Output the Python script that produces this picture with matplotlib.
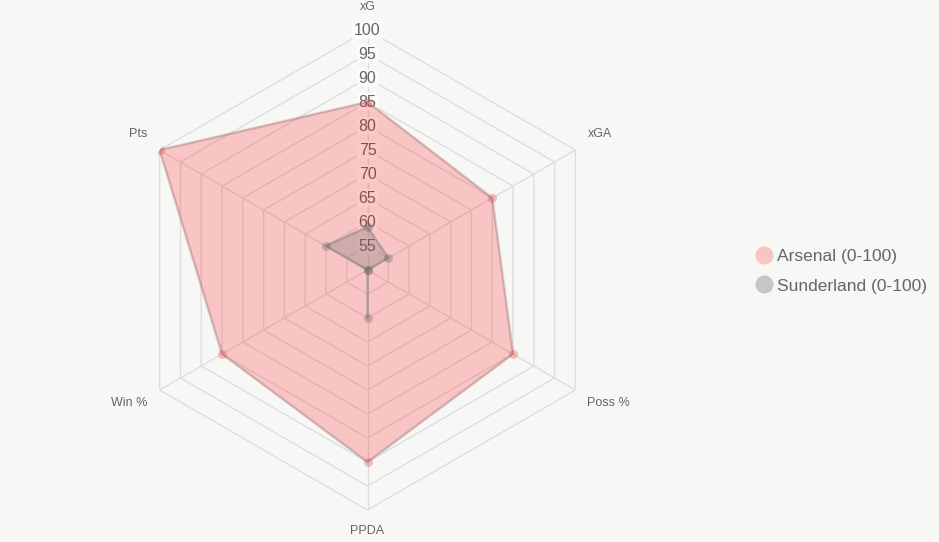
import numpy as np
import matplotlib.pyplot as plt
from matplotlib.lines import Line2D

plt.rcParams['font.family'] = ['Liberation Sans', 'DejaVu Sans']

# data
metrics = ['xG', 'xGA', 'Poss %', 'PPDA', 'Win %', 'Pts']
arsenal = [85, 80, 85, 90, 85, 100]
sunderland = [59, 55, 50, 60, 50, 60]
ticks = [55, 60, 65, 70, 75, 80, 85, 90, 95, 100]
series_names = ['Arsenal (0-100)', 'Sunderland (0-100)']

bg = '#f7f7f5'
grid_c = '#dedede'
text_c = '#666666'

fig = plt.figure(figsize=(9.39, 5.42), dpi=100, facecolor=bg)
ax = fig.add_axes([0.1358, 0.059, 0.5112, 0.8856], projection='polar')
ax.set_facecolor('none')
ax.set_theta_offset(np.pi / 2)
ax.set_theta_direction(-1)
ax.set_ylim(50, 100)
ax.grid(False)
ax.spines['polar'].set_visible(False)
ax.set_xticks([])
ax.set_yticks([])

n = len(metrics)
angles = np.arange(n) * 2 * np.pi / n
closed = np.append(angles, angles[0])

# hexagonal grid rings and spokes
for t in ticks:
    ax.plot(closed, [t] * (n + 1), color=grid_c, lw=1, zorder=1)
for a in angles:
    ax.plot([a, a], [50, 100], color=grid_c, lw=1, zorder=1)

# tick labels along the top spoke
for t in ticks:
    ax.text(0, t, str(t), ha='center', va='center', fontsize=11.5, color=text_c,
            zorder=2, bbox=dict(boxstyle='square,pad=0.12', fc='white', ec='none', alpha=0.75))

# axis labels
for a, lab in zip(angles, metrics):
    s, c = np.sin(a), np.cos(a)
    if abs(s) < 0.1:
        ha, off = 'center', (0, 23 if c > 0 else -21)
    else:
        ha = 'left' if s > 0 else 'right'
        off = (12 if s > 0 else -12, 16 if c > 0 else -13)
    ax.annotate(lab, (a, 100), xytext=off, textcoords='offset pixels',
                ha=ha, va='center', fontsize=9, color=text_c, annotation_clip=False)

# datasets
ars = np.append(arsenal, arsenal[0])
sun = np.append(sunderland, sunderland[0])
ax.fill(closed, ars, color=(1.0, 0.0, 0.0, 0.2), zorder=3)
ax.plot(closed, ars, color=(0.55, 0.55, 0.55, 0.3), lw=2, zorder=4)
ax.plot(angles, arsenal, 'o', ms=6.5, color=(0.85, 0.25, 0.25, 0.3), mec='none', zorder=5)

ax.fill(closed, sun, color=(0.45, 0.45, 0.45, 0.3), zorder=3)
ax.plot(closed, sun, color=(0.5, 0.5, 0.5, 0.3), lw=2, zorder=4)
ax.plot(angles, sunderland, 'o', ms=6.5, color=(0.35, 0.35, 0.35, 0.3), mec='none', zorder=5)

# legend
handles = [
    Line2D([], [], ls='none', marker='o', ms=12, mfc='#f8c4c4', mec='#f8c4c4'),
    Line2D([], [], ls='none', marker='o', ms=12, mfc='#c6c6c4', mec='#c6c6c4'),
]
fig.legend(handles, series_names, loc='center left', bbox_to_anchor=(0.788, 0.5),
           frameon=False, fontsize=12.5, labelcolor=text_c, handletextpad=0.25,
           handlelength=1.0, labelspacing=0.85)

fig.savefig('out.png', dpi=100, facecolor=bg)
